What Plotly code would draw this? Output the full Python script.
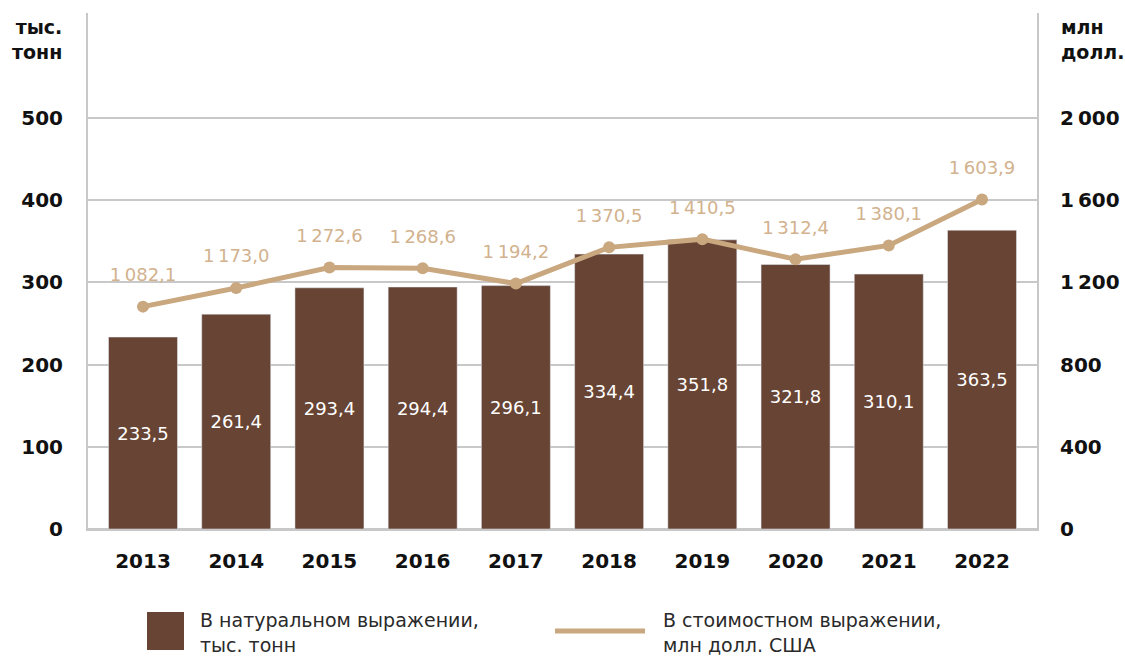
import plotly.graph_objects as go

years = ["2013", "2014", "2015", "2016", "2017", "2018", "2019", "2020", "2021", "2022"]
volume_kt = [233.5, 261.4, 293.4, 294.4, 296.1, 334.4, 351.8, 321.8, 310.1, 363.5]
value_musd = [1082.1, 1173.0, 1272.6, 1268.6, 1194.2, 1370.5, 1410.5, 1312.4, 1380.1, 1603.9]
left_ticks = [0, 100, 200, 300, 400, 500]
right_ticks = [0, 400, 800, 1200, 1600, 2000]

BAR = "#674434"
LINE = "#c9a77f"
LABEL = "#d2b28e"
GRID = "#c8c8c8"
FAM = "'DejaVu Sans', sans-serif"


def fmt(v, dec=1):
    s = f"{v:,.{dec}f}"
    return s.replace(",", "\u2009").replace(".", ",")


W, H = 1125, 658
L, R, T, B = 88, 88, 13, 129
pw = W - L - R
ph = H - T - B


def px_x(x):
    return (x - L) / pw


def px_y(y):
    return (H - B - y) / ph


left_max = ph / 0.822
right_max = left_max * 4

fig = go.Figure()
fig.add_trace(go.Bar(
    x=years, y=volume_kt, marker_color=BAR, width=0.74,
    text=[fmt(v) for v in volume_kt], textposition="inside",
    insidetextanchor="middle", textangle=0,
    textfont=dict(color="white", size=18, family=FAM),
    showlegend=False, yaxis="y", hoverinfo="skip",
))
fig.add_trace(go.Scatter(
    x=years, y=value_musd, mode="lines+markers", yaxis="y2",
    line=dict(color=LINE, width=5), marker=dict(color=LINE, size=12),
    showlegend=False, cliponaxis=False, hoverinfo="skip",
))
# value labels above the line points (transparent large markers give the offset)
fig.add_trace(go.Scatter(
    x=years, y=value_musd, mode="markers+text", yaxis="y2",
    marker=dict(size=32, opacity=0, color=LINE),
    text=[fmt(v) for v in value_musd], textposition="top center",
    textfont=dict(color=LABEL, size=18, family=FAM),
    showlegend=False, cliponaxis=False, hoverinfo="skip",
))

tickfont = dict(size=20, weight="bold", color="#111", family=FAM)
fig.update_layout(
    width=W, height=H,
    margin=dict(l=L, r=R, t=T, b=B, autoexpand=False),
    plot_bgcolor="white", paper_bgcolor="white",
    font=dict(family=FAM, color="#111111"),
    xaxis=dict(
        type="category", range=[-0.59, 9.59], showgrid=False,
        showline=True, linecolor=GRID, linewidth=2,
        ticks="", tickfont=tickfont, ticklabelstandoff=13,
    ),
    yaxis=dict(
        range=[0, left_max], tickvals=left_ticks,
        ticktext=[fmt(v, 0) for v in left_ticks],
        showgrid=True, gridcolor=GRID, gridwidth=2,
        showline=True, linecolor=GRID, linewidth=2,
        zeroline=True, zerolinecolor=GRID, zerolinewidth=2,
        ticks="", tickfont=tickfont, ticklabelstandoff=19,
    ),
    yaxis2=dict(
        range=[0, right_max], tickvals=right_ticks,
        ticktext=[fmt(v, 0) for v in right_ticks],
        overlaying="y", side="right", showgrid=False,
        showline=True, linecolor=GRID, linewidth=2, zeroline=False,
        ticks="", tickfont=tickfont, ticklabelstandoff=17,
    ),
)

# axis unit titles
fig.add_annotation(xref="paper", yref="paper", x=px_x(64), y=px_y(40),
                   xanchor="right", yanchor="middle", align="right",
                   text="тыс.<br>тонн", showarrow=False,
                   font=dict(size=19, weight="bold", color="#111", family=FAM))
fig.add_annotation(xref="paper", yref="paper", x=px_x(1059), y=px_y(40),
                   xanchor="left", yanchor="middle", align="left",
                   text="млн<br>долл.", showarrow=False,
                   font=dict(size=19, weight="bold", color="#111", family=FAM))

# custom legend
fig.add_shape(type="rect", xref="paper", yref="paper",
              x0=px_x(147), x1=px_x(184), y0=px_y(650), y1=px_y(612),
              fillcolor=BAR, line=dict(width=0))
fig.add_shape(type="line", xref="paper", yref="paper",
              x0=px_x(555), x1=px_x(645), y0=px_y(631), y1=px_y(631),
              line=dict(color=LINE, width=5))
fig.add_annotation(xref="paper", yref="paper", x=px_x(198), y=px_y(632),
                   xanchor="left", yanchor="middle", align="left",
                   text="В натуральном выражении,<br>тыс. тонн", showarrow=False,
                   font=dict(size=19, color="#2a2a2a", family=FAM))
fig.add_annotation(xref="paper", yref="paper", x=px_x(661), y=px_y(632),
                   xanchor="left", yanchor="middle", align="left",
                   text="В стоимостном выражении,<br>млн долл. США", showarrow=False,
                   font=dict(size=19, color="#2a2a2a", family=FAM))

fig.write_html("out.html", config={"displayModeBar": False},
               post_script="document.body.style.margin='0';document.body.style.overflow='hidden';")
